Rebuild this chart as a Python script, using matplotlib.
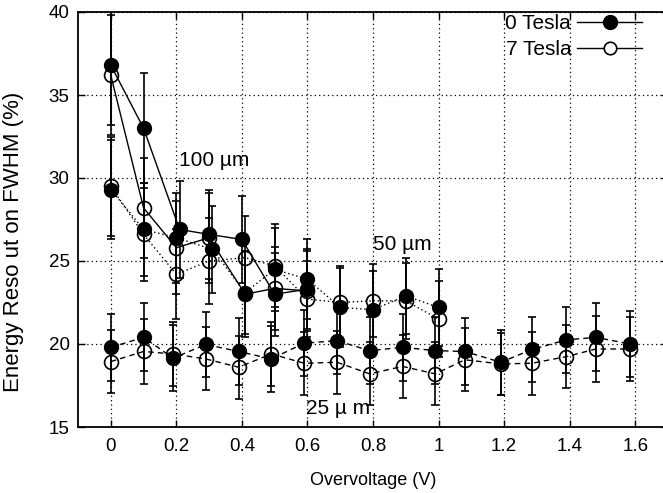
import matplotlib
matplotlib.use("Agg")
import matplotlib.pyplot as plt
from matplotlib.lines import Line2D

plt.rcParams['font.family'] = ['Liberation Sans', 'DejaVu Sans']

# ---------------- data ----------------
volt_100 = [0.0, 0.1, 0.21, 0.3, 0.4, 0.5, 0.6]
res_100_0T = [36.8, 33.0, 26.9, 26.6, 26.3, 23.0, 23.3]
err_100_0T = [3.6, 3.3, 2.9, 2.7, 2.6, 2.5, 2.4]
volt_100_7T = [0.0, 0.1, 0.2, 0.3, 0.41, 0.5, 0.6]
res_100_7T = [36.2, 28.2, 25.8, 26.4, 23.0, 23.35, 23.2]
err_100_7T = [3.6, 3.0, 2.8, 2.7, 2.6, 2.5, 2.4]

volt_50 = [0.0, 0.1, 0.2, 0.31, 0.41, 0.5, 0.6, 0.7, 0.8, 0.9, 1.0]
res_50_0T = [29.3, 26.9, 26.4, 25.7, 23.1, 24.5, 23.9, 22.2, 22.07, 22.9, 22.2]
err_50_0T = [3.0, 2.8, 2.7, 2.6, 2.5, 2.5, 2.4, 2.4, 2.3, 2.3, 2.3]
volt_50_7T = [0.0, 0.1, 0.2, 0.3, 0.41, 0.5, 0.6, 0.7, 0.8, 0.9, 1.0]
res_50_7T = [29.5, 26.6, 24.2, 25.0, 25.2, 24.7, 22.7, 22.5, 22.6, 22.6, 21.5]
err_50_7T = [3.0, 2.8, 2.7, 2.6, 2.5, 2.5, 2.3, 2.2, 2.2, 2.3, 2.3]

volt_25 = [0.0, 0.1, 0.19, 0.29, 0.39, 0.49, 0.59, 0.69, 0.79, 0.89, 0.99,
           1.08, 1.19, 1.285, 1.39, 1.48, 1.585]
res_25_0T = [19.8, 20.4, 19.15, 19.97, 19.55, 19.1, 20.05, 20.2, 19.6, 19.8, 19.6,
             19.55, 18.9, 19.67, 20.25, 20.4, 20.0]
err_25_0T = [2.0, 2.05, 2.0, 1.95, 2.0, 2.0, 2.0, 2.0, 2.0, 2.0, 2.0,
             2.0, 1.95, 1.95, 2.0, 2.05, 2.0]
res_25_7T = [18.94, 19.55, 19.4, 19.1, 18.6, 19.4, 18.84, 18.9, 18.2, 18.65, 18.2,
             19.05, 18.8, 18.84, 19.24, 19.7, 19.7]
err_25_7T = [1.9, 1.95, 1.95, 1.9, 1.9, 1.9, 1.9, 1.9, 1.9, 1.9, 1.9,
             1.9, 1.85, 1.9, 1.9, 2.0, 1.95]

xticks = [0, 0.2, 0.4, 0.6, 0.8, 1.0, 1.2, 1.4, 1.6]
xticklabels = ["0", "0.2", "0.4", "0.6", "0.8", "1", "1.2", "1.4", "1.6"]
yticks = [15, 20, 25, 30, 35, 40]

# ---------------- figure ----------------
W, H = 663, 493
fig = plt.figure(figsize=(W / 100, H / 100), dpi=100)
left, right, top, bottom = 78, 668, 12, 427
ax = fig.add_axes([left / W, 1 - bottom / H, (right - left) / W, (bottom - top) / H])

ax.set_xlim(-0.1, 1.7)
ax.set_ylim(15, 40)

ms = 10
common = dict(color='black', ecolor='black', elinewidth=1.2, capsize=3.2,
              capthick=1.2, markersize=ms, lw=1.0, clip_on=True)

dot = (0, (1, 2))
dash = (0, (4, 3))

# 25 um (dashed)
ax.errorbar(volt_25, res_25_7T, yerr=err_25_7T, fmt='o', mfc='none', mec='black',
            mew=1.2, ls=dash, **common)
ax.errorbar(volt_25, res_25_0T, yerr=err_25_0T, fmt='o', mfc='black', mec='black',
            ls=dash, **common)
# 50 um (dotted)
ax.errorbar(volt_50_7T, res_50_7T, yerr=err_50_7T, fmt='o', mfc='none', mec='black',
            mew=1.2, ls=dot, **common)
ax.errorbar(volt_50, res_50_0T, yerr=err_50_0T, fmt='o', mfc='black', mec='black',
            ls=dot, **common)
# 100 um (solid)
ax.errorbar(volt_100_7T, res_100_7T, yerr=err_100_7T, fmt='o', mfc='none', mec='black',
            mew=1.2, ls='-', **common)
ax.errorbar(volt_100, res_100_0T, yerr=err_100_0T, fmt='o', mfc='black', mec='black',
            ls='-', **common)

fs_tick = 13.5
fs_txt = 15
ax.set_xticks(xticks)
ax.set_xticklabels(xticklabels)
ax.set_yticks(yticks)
ax.tick_params(direction='in', length=5, width=1.0, top=True, right=True,
               labelsize=fs_tick, colors='black')
ax.tick_params(axis='x', pad=8)
ax.tick_params(axis='y', pad=6)
ax.grid(True, color='black', linestyle=(0, (1, 2.5)), linewidth=0.9)
ax.set_axisbelow(True)
for s in ax.spines.values():
    s.set_linewidth(1.3)

ax.set_xlabel("Overvoltage (V)", fontsize=13, labelpad=12)
ax.set_ylabel("Energy Reso ut on FWHM (%)", fontsize=16)
ax.yaxis.set_label_coords(-0.092, 0.445)

ax.text(0.207, 31.06, "100 µm", fontsize=fs_txt, va='center', ha='left')
ax.text(0.80, 25.97, "50 µm", fontsize=fs_txt, va='center', ha='left')
ax.text(0.595, 16.1, "25 µ m", fontsize=fs_txt, va='center', ha='left')

h0 = Line2D([], [], color='black', lw=1.0, marker='o', ms=ms, mfc='black', mec='black')
h7 = Line2D([], [], color='black', lw=1.0, marker='o', ms=ms - 1, mfc='white', mec='black', mew=1.2)
fig.legend([h0, h7], ["0 Tesla", "7 Tesla"], loc='upper right',
           bbox_to_anchor=(642 / W, 1 - 14 / H), frameon=False, markerfirst=False,
           handlelength=3.1, handletextpad=0.3, labelspacing=0.35, borderpad=0,
           borderaxespad=0, fontsize=fs_txt)

fig.savefig("out.png", dpi=100)
